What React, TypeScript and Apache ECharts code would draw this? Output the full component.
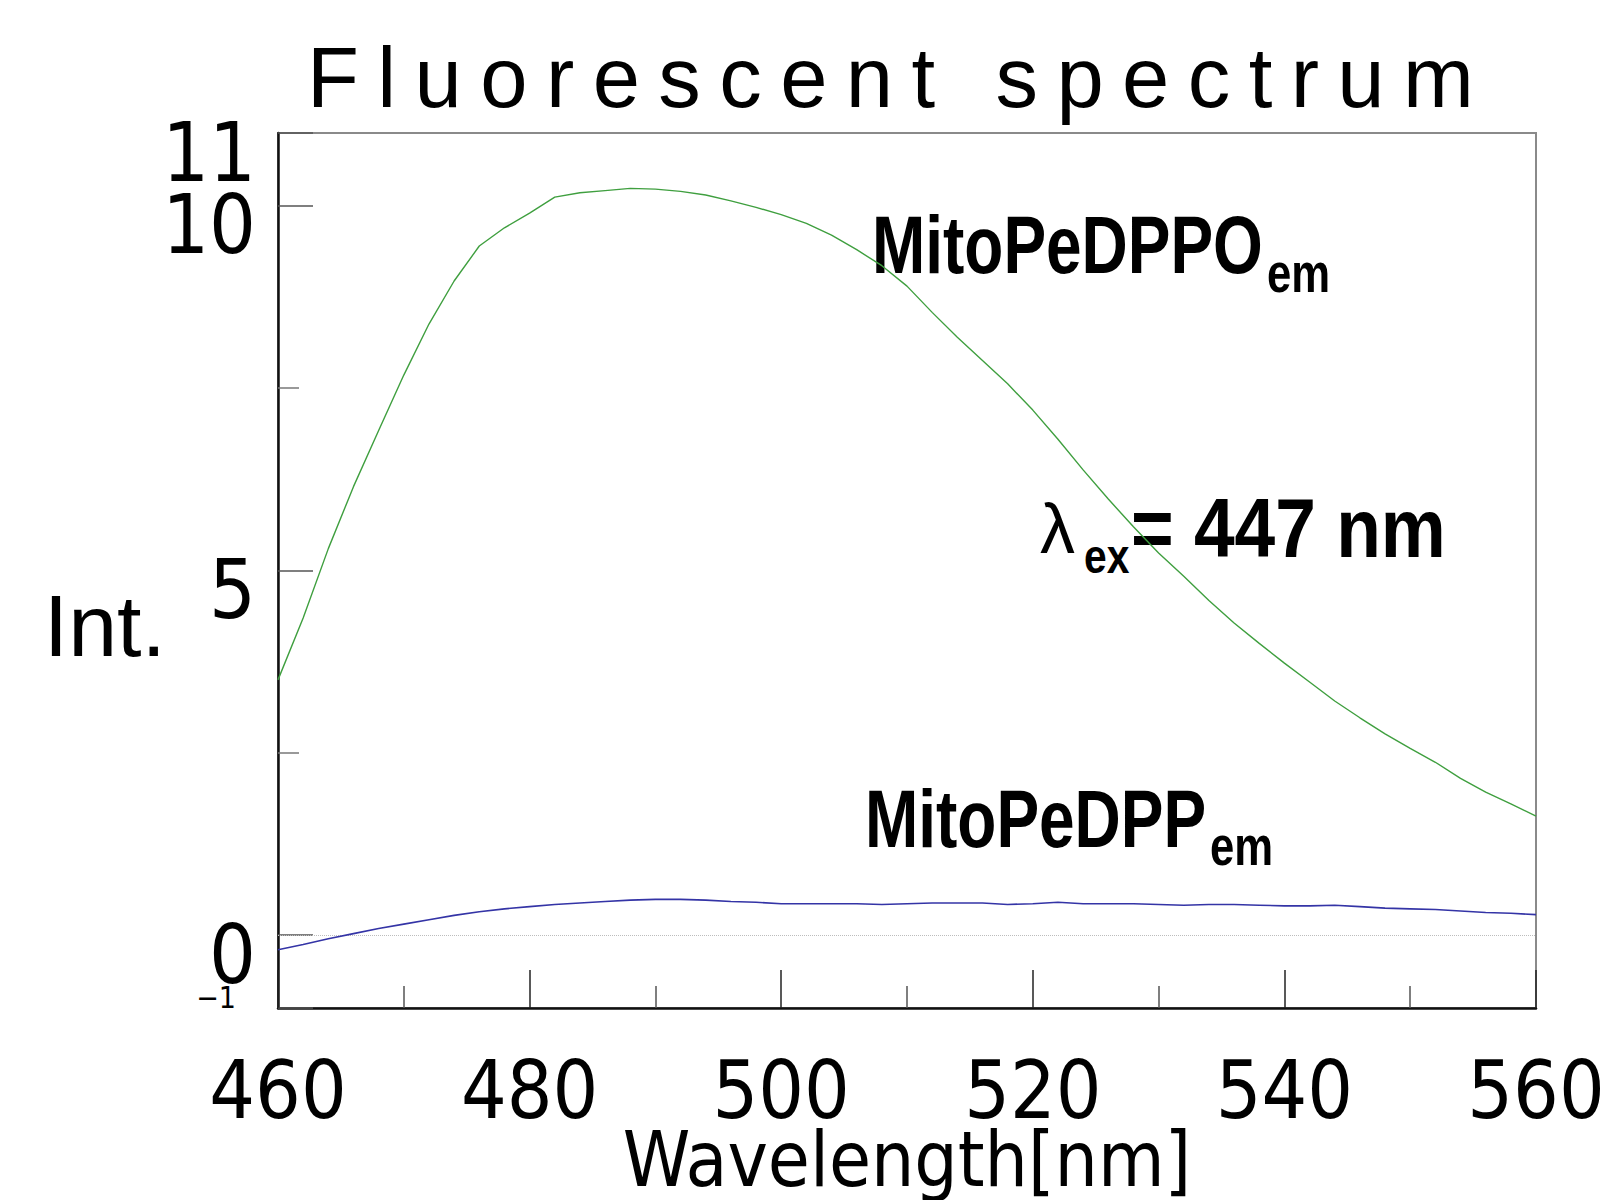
import React, { useEffect, useRef } from "react";
import * as echarts from "echarts";

// ---- data ----
const wavelengths = [
  460, 462, 464, 466, 468, 470, 472, 474, 476, 478, 480, 482, 484, 486, 488, 490, 492, 494, 496, 498,
  500, 502, 504, 506, 508, 510, 512, 514, 516, 518, 520, 522, 524, 526, 528, 530, 532, 534, 536, 538,
  540, 542, 544, 546, 548, 550, 552, 554, 556, 558, 560,
];
const mitoPeDPPOem = [
  3.5, 4.35, 5.3, 6.15, 6.92, 7.68, 8.38, 8.97, 9.45, 9.7, 9.9, 10.12, 10.18, 10.21, 10.24, 10.23, 10.2, 10.15, 10.07, 9.98,
  9.88, 9.76, 9.6, 9.4, 9.18, 8.9, 8.54, 8.2, 7.88, 7.56, 7.2, 6.8, 6.38, 5.98, 5.6, 5.24, 4.92, 4.59, 4.28, 4.0,
  3.73, 3.47, 3.21, 2.98, 2.76, 2.56, 2.37, 2.15, 1.96, 1.8, 1.63,
];
const mitoPeDPPem = [
  -0.2, -0.13, -0.05, 0.02, 0.09, 0.15, 0.21, 0.27, 0.32, 0.36, 0.39, 0.42, 0.44, 0.46, 0.48, 0.49, 0.49, 0.48, 0.46, 0.45,
  0.43, 0.43, 0.43, 0.43, 0.42, 0.43, 0.44, 0.44, 0.44, 0.42, 0.43, 0.45, 0.43, 0.43, 0.43, 0.42, 0.41, 0.42, 0.42, 0.41,
  0.4, 0.4, 0.41, 0.39, 0.37, 0.36, 0.35, 0.33, 0.31, 0.3, 0.28,
];
const yMajorTicks = [-1, 0, 5, 10, 11];
const yMinorTicks = [2.5, 7.5];
const yMainLabels = [0, 5, 10];
const yTopLabel = [11];
const yBottomLabel = [-1];
const xMin = 460;
const xMax = 560;
const xInterval = 20;
const titleText = "Fluorescent spectrum";
const xName = "Wavelength[nm]";
const yName = "Int.";

const NARROW = "'DejaVu Sans Condensed', 'Liberation Sans Narrow', sans-serif";
const SANS = "'Liberation Sans', Arial, sans-serif";

const textStyle = (text: string, fontSize: number, bold: boolean, family = SANS) => ({
  text,
  fontFamily: family,
  fontSize,
  fontWeight: bold ? "bold" : "normal",
  fill: "#000",
  align: "left",
  verticalAlign: "middle",
  textAlign: "left",
  textVerticalAlign: "middle",
});

const bigRich = {
  b: { fontFamily: NARROW, fontSize: 82, lineHeight: 28, color: "#000", padding: [38, 0, 0, 0] },
};
const bigLabel = {
  formatter: (v: number) => "{b|" + v + "}",
  rich: bigRich,
};
const smallLabel = {
  formatter: () => "{s|\u22121}",
  rich: {
    s: { fontFamily: NARROW, fontSize: 30, lineHeight: 20, color: "#000", padding: [0, 20, 22, 0] },
  },
};

const labelOnlyAxis = (values: number[], label: any) => ({
  type: "value",
  min: -1,
  max: 11,
  position: "left",
  axisLine: { show: false, onZero: false },
  axisTick: { show: false },
  splitLine: { show: false },
  axisLabel: { customValues: values, margin: 22, ...label },
});

export default function App() {
  const ref = useRef<HTMLDivElement>(null);

  useEffect(() => {
    const dom = ref.current!;
    const chart = echarts.init(dom, null, { renderer: "svg" });

    const greenData = wavelengths.map((w, i) => [w, mitoPeDPPOem[i]]);
    const blueData = wavelengths.map((w, i) => [w, mitoPeDPPem[i]]);

    const option: any = {
      animation: false,
      backgroundColor: "#ffffff",
      title: {
        text: titleText,
        left: 302,
        top: 30,
        textStyle: { fontFamily: SANS, fontSize: 85, fontWeight: "normal", color: "#000" },
      },
      grid: {
        left: 278,
        right: 69,
        top: 133,
        bottom: 192,
        containLabel: false,
        outerBoundsMode: "none",
        show: true,
        borderColor: "#8a8a8a",
        borderWidth: 2,
        backgroundColor: "transparent",
      },
      xAxis: {
        type: "value",
        min: xMin,
        max: xMax,
        interval: xInterval,
        name: xName,
        nameLocation: "middle",
        nameGap: 121,
        nameMoveOverlap: false,
        nameTextStyle: { fontFamily: NARROW, fontSize: 76, lineHeight: 60, color: "#000" },
        axisLine: { show: true, onZero: false, lineStyle: { color: "#111", width: 2.5 } },
        axisTick: { show: true, inside: true, length: 38, lineStyle: { color: "#222", width: 1.5 } },
        minorTick: { show: true, splitNumber: 2, length: 22, lineStyle: { color: "#555", width: 1.5 } },
        axisLabel: {
          fontFamily: NARROW,
          fontSize: 80,
          lineHeight: 60,
          color: "#000",
          margin: 52,
          showMinLabel: true,
          showMaxLabel: true,
        },
        splitLine: { show: false },
      },
      yAxis: [
        {
          type: "value",
          min: -1,
          max: 11,
          position: "left",
          name: yName,
          nameLocation: "middle",
          nameRotate: 0,
          nameGap: 112,
          nameMoveOverlap: false,
          nameTextStyle: {
            fontFamily: SANS,
            fontSize: 88,
            color: "#000",
            verticalAlign: "top",
            align: "right",
            lineHeight: 110,
          },
          axisLine: { show: true, onZero: false, lineStyle: { color: "#111", width: 2.5 } },
          axisTick: { show: false },
          axisLabel: { customValues: yMainLabels, margin: 22, ...bigLabel },
          splitLine: { show: false },
        },
        {
          type: "value",
          min: -1,
          max: 11,
          position: "left",
          axisLine: { show: false, onZero: false },
          axisTick: {
            show: true,
            inside: true,
            length: 35,
            customValues: yMajorTicks,
            lineStyle: { color: "#555", width: 1.5 },
          },
          axisLabel: { show: false },
          splitLine: { show: false },
        },
        {
          type: "value",
          min: -1,
          max: 11,
          position: "left",
          axisLine: { show: false, onZero: false },
          axisTick: {
            show: true,
            inside: true,
            length: 21,
            customValues: yMinorTicks,
            lineStyle: { color: "#777", width: 1.5 },
          },
          axisLabel: { show: false },
          splitLine: { show: false },
        },
        labelOnlyAxis(yTopLabel, bigLabel),
        labelOnlyAxis(yBottomLabel, smallLabel),
      ],
      series: [
        {
          name: "MitoPeDPPOem",
          type: "line",
          data: greenData,
          showSymbol: false,
          symbol: "none",
          lineStyle: { color: "#3f9f3f", width: 1.4 },
          z: 3,
        },
        {
          name: "MitoPeDPPem",
          type: "line",
          data: blueData,
          showSymbol: false,
          symbol: "none",
          lineStyle: { color: "#3434a6", width: 1.6 },
          z: 3,
          markLine: {
            silent: true,
            symbol: "none",
            label: { show: false },
            lineStyle: { type: "dotted", color: "#bdbdbd", width: 1 },
            data: [{ yAxis: 0 }],
            z: 1,
          },
        },
      ],
      graphic: [
        { type: "text", x: 872, y: 245, scaleX: 0.78, style: textStyle("MitoPeDPPO", 82, true) },
        { type: "text", x: 1267, y: 273, scaleX: 0.78, style: textStyle("em", 56, true) },
        { type: "text", x: 865, y: 819, scaleX: 0.78, style: textStyle("MitoPeDPP", 82, true) },
        { type: "text", x: 1210, y: 846, scaleX: 0.78, style: textStyle("em", 56, true) },
        { type: "text", x: 1040, y: 529, style: textStyle("\u03bb", 70, false) },
        { type: "text", x: 1084, y: 556, scaleX: 0.85, style: textStyle("ex", 48, true) },
        { type: "text", x: 1131, y: 528, scaleX: 0.87, style: textStyle("= 447 nm", 84, true) },
      ],
    };

    chart.setOption(option);

    const applySpacing = () => {
      dom.querySelectorAll("text").forEach((t) => {
        if (t.textContent === titleText) t.setAttribute("letter-spacing", "18.4px");
      });
    };
    applySpacing();
    chart.on("finished", applySpacing);
    const timer = setTimeout(applySpacing, 50);

    return () => {
      clearTimeout(timer);
      chart.dispose();
    };
  }, []);

  return (
    <div
      ref={ref}
      style={{ position: "absolute", left: 0, top: 0, width: 1605, height: 1200, background: "#fff" }}
    />
  );
}
